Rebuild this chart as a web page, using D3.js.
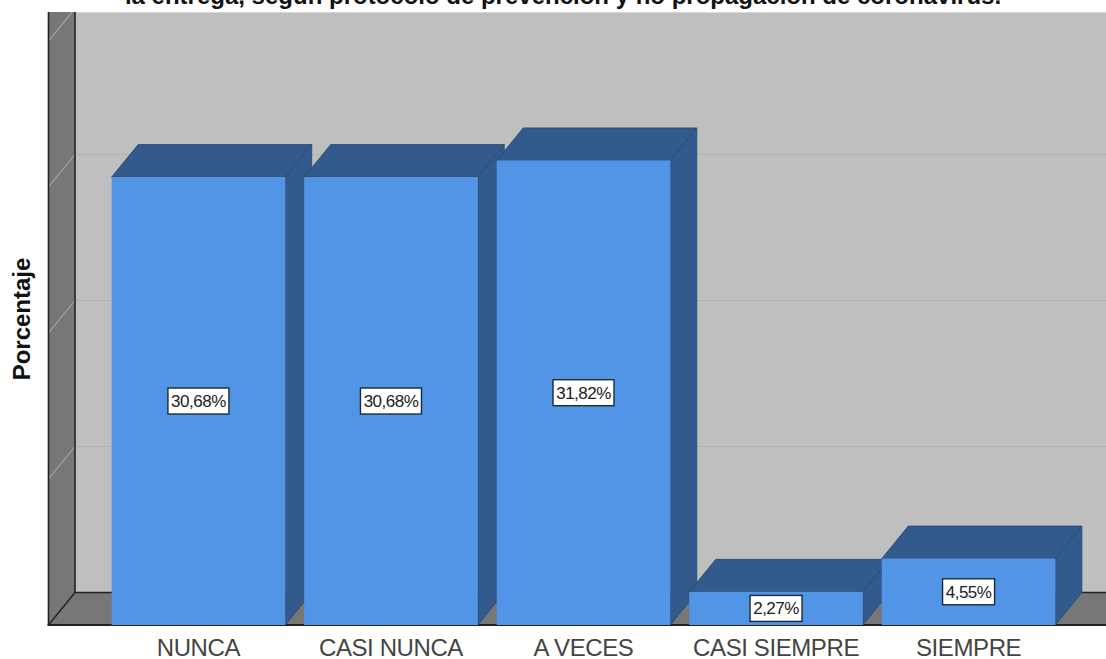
<!DOCTYPE html>
<html><head><meta charset="utf-8">
<script src="https://cdn.jsdelivr.net/npm/d3@7/dist/d3.min.js"></script>
<style>html,body{margin:0;padding:0;background:#fff;overflow:hidden}svg{display:block}text{font-family:"Liberation Sans",Arial,sans-serif}</style>
</head><body><div id="chart"></div>
<script>
const categories = ["NUNCA","CASI NUNCA","A VECES","CASI SIEMPRE","SIEMPRE"];
const percentages = [30.68,30.68,31.82,2.27,4.55];
const labels = ["30,68%","30,68%","31,82%","2,27%","4,55%"];
const yTicks = [0,10,20,30,40];
const titleText = "la entrega, según protocolo de prevención y no propagación de coronavirus.";
const yTitle = "Porcentaje";

const W=1106,H=659, plotLeft=48.5, plotTop=12, base=625, dx=26.5, dy=-32.5;
const svg=d3.select("#chart").append("svg").attr("width",W).attr("height",H);
svg.append("defs").append("clipPath").attr("id","plot").append("rect")
  .attr("x",plotLeft-1.5).attr("y",plotTop).attr("width",W-plotLeft+2).attr("height",H-plotTop);

const x=d3.scaleBand().domain(categories).range([102,1065]).paddingInner(0.0984).paddingOuter(0.05);
const y=d3.scaleLinear().domain([0,40]).range([base,base-584]);
const pts=a=>a.map(p=>p.join(",")).join(" ");
const g=svg.append("g").attr("clip-path","url(#plot)");
const floorY=base+dy, wallX=plotLeft+dx;

g.append("rect").attr("x",wallX).attr("y",plotTop).attr("width",W-wallX).attr("height",floorY-plotTop).attr("fill","#bfbfbf");
g.append("line").attr("x1",wallX).attr("x2",W).attr("y1",plotTop+.5).attr("y2",plotTop+.5).attr("stroke","#d8d8d8");
// side wall and floor
g.append("polygon").attr("points",pts([[plotLeft,plotTop-40],[wallX,plotTop-40],[wallX,floorY],[plotLeft,base]])).attr("fill","#777");
g.append("polygon").attr("points",pts([[plotLeft,base],[wallX,floorY],[W,floorY],[W,base]])).attr("fill","#777");
// gridlines on back wall and side wall
g.selectAll(".grid").data(yTicks.slice(1)).join("line").attr("class","grid")
  .attr("x1",wallX).attr("x2",W).attr("y1",d=>y(d)+dy).attr("y2",d=>y(d)+dy).attr("stroke","#b1b1b1").attr("stroke-width",1.2);
g.selectAll(".gridside").data(yTicks.slice(1)).join("line").attr("class","gridside")
  .attr("x1",plotLeft).attr("x2",wallX).attr("y1",d=>y(d)).attr("y2",d=>y(d)+dy).attr("stroke","#a8a8a8").attr("stroke-width",1.1);
// frame
const frame="#222";
g.append("line").attr("x1",wallX).attr("x2",wallX).attr("y1",plotTop).attr("y2",floorY).attr("stroke",frame).attr("stroke-width",1.6);
g.append("line").attr("x1",plotLeft).attr("x2",plotLeft).attr("y1",plotTop).attr("y2",base).attr("stroke",frame).attr("stroke-width",1.6);
g.append("line").attr("x1",wallX).attr("x2",W).attr("y1",floorY).attr("y2",floorY).attr("stroke",frame).attr("stroke-width",1.6);
g.append("line").attr("x1",plotLeft).attr("x2",wallX).attr("y1",base).attr("y2",floorY).attr("stroke",frame).attr("stroke-width",1.4);
g.append("line").attr("x1",plotLeft-1).attr("x2",W).attr("y1",base).attr("y2",base).attr("stroke",frame).attr("stroke-width",1.8);

// bars
const front="#5294e5", dark="#335a8d", edge="#28466f";
const bars=g.selectAll(".bar").data(categories.map((c,i)=>({c,v:percentages[i],l:labels[i]}))).join("g").attr("class","bar");
bars.append("polygon").attr("points",d=>{const a=x(d.c),b=a+x.bandwidth(),t=y(d.v);
  return pts([[a,t],[a+dx,t+dy],[b+dx,t+dy],[b,t]]);}).attr("fill",dark).attr("stroke",edge).attr("stroke-width",.8);
bars.append("polygon").attr("points",d=>{const b=x(d.c)+x.bandwidth(),t=y(d.v);
  return pts([[b,t],[b+dx,t+dy],[b+dx,base+dy],[b,base]]);}).attr("fill",dark).attr("stroke",edge).attr("stroke-width",.8);
bars.append("rect").attr("x",d=>x(d.c)).attr("y",d=>y(d.v)).attr("width",x.bandwidth()).attr("height",d=>base-y(d.v)).attr("fill",front);

// value labels
const lab=svg.selectAll(".lab").data(bars.data()).join("g").attr("class","lab")
  .attr("transform",d=>`translate(${x(d.c)+x.bandwidth()/2},${(y(d.v)+base)/2})`);
lab.append("rect").attr("x",d=>d.v<5?-26:-30.5).attr("y",-13).attr("width",d=>d.v<5?52:61).attr("height",26)
  .attr("fill","#fff").attr("stroke","#1a2a3a").attr("stroke-width",1.4);
lab.append("text").attr("text-anchor","middle").attr("y",6).attr("font-size",17).attr("fill","#222").style("letter-spacing","-0.5px").text(d=>d.l);

// category axis
const ax=svg.append("g").attr("transform",`translate(0,${base})`).call(d3.axisBottom(x).tickSize(0).tickPadding(14));
ax.select(".domain").remove();
ax.selectAll("text").attr("font-size",24).attr("font-family","'Liberation Sans',Arial,sans-serif").attr("fill","#444")
  .style("letter-spacing","-0.4px").attr("dy","0.71em");

svg.append("text").attr("x",563).attr("y",4).attr("text-anchor","middle").attr("font-size",24).attr("font-weight","bold").attr("fill","#111").text(titleText);
svg.append("text").attr("transform","translate(30,319) rotate(-90)").attr("text-anchor","middle").attr("font-size",24).attr("font-weight","bold").attr("fill","#111").text(yTitle);
</script></body></html>
